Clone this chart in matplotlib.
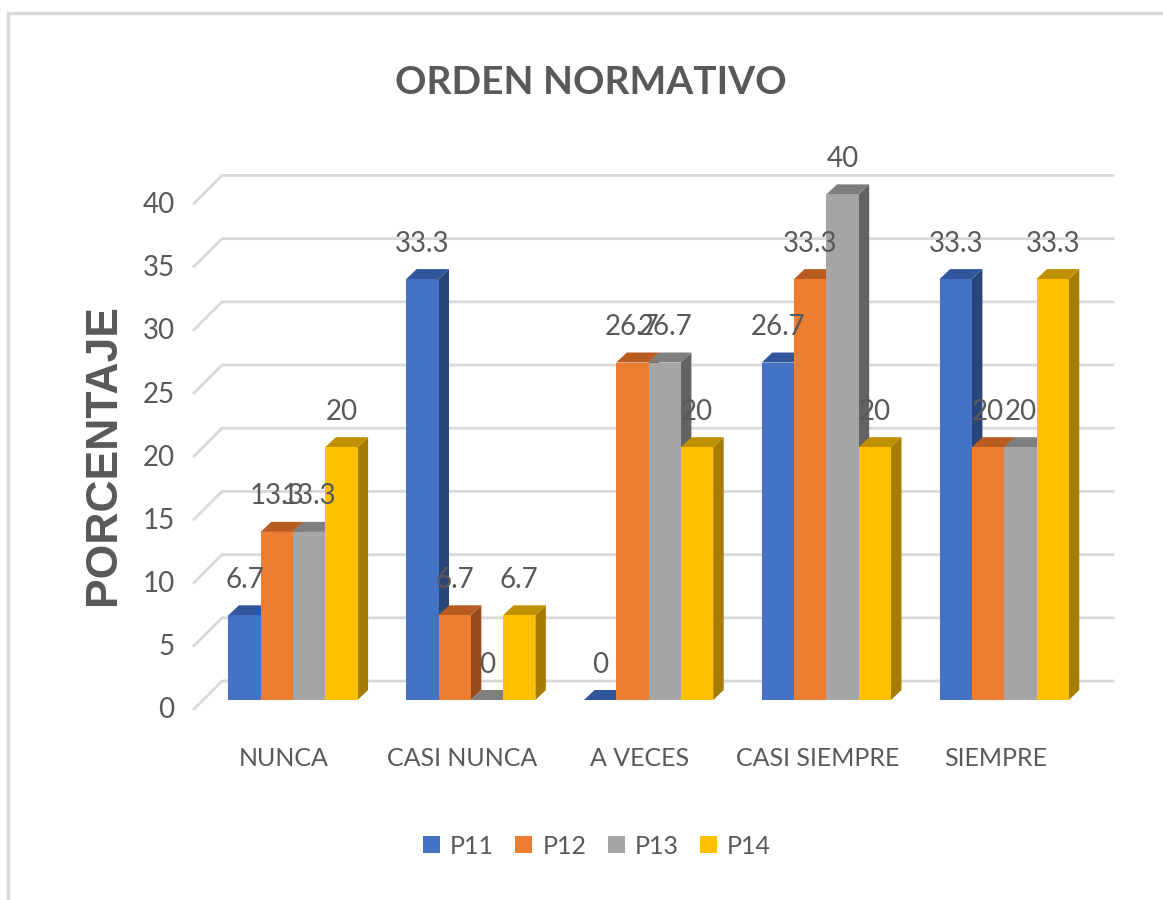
import matplotlib
matplotlib.use('Agg')
import matplotlib.pyplot as plt
from matplotlib.lines import Line2D
from matplotlib.patches import Polygon
from matplotlib.transforms import ScaledTranslation

# Chart data
categories = ['NUNCA', 'CASI NUNCA', 'A VECES', 'CASI SIEMPRE', 'SIEMPRE']
series_names = ['P11', 'P12', 'P13', 'P14']
p11 = [6.7, 33.3, 0, 26.7, 33.3]
p12 = [13.3, 6.7, 26.7, 33.3, 20]
p13 = [13.3, 0, 26.7, 40, 20]
p14 = [20, 6.7, 20, 20, 33.3]
y_ticks = [0, 5, 10, 15, 20, 25, 30, 35, 40]

# Colours: front, top and side of each series
front_colors = ['#4472C4', '#ED7D31', '#A5A5A5', '#FFC000']
top_colors = ['#31569C', '#B85C22', '#7F7F7F', '#BF9000']
side_colors = ['#2A4678', '#964A1B', '#636363', '#A67C00']
text_color = '#595959'
grid_color = '#D9D9D9'

font = 'Lato'

W, H = 1163, 900
group_px = 177.8
unit_px = 12.64
x0_px = 293
base_px = 700
bar_w = 32.3 / group_px
depth_x = 10.5 / group_px
depth_y = 10 / unit_px

fig = plt.figure(figsize=(W / 100, H / 100), dpi=100, facecolor='white')
left_px, right_px = 194, 1113
y_top = 42
ax = fig.add_axes([left_px / W, (H - base_px) / H, (right_px - left_px) / W, y_top * unit_px / H])
ax.set_xlim((left_px - x0_px) / group_px, (right_px - x0_px) / group_px)
ax.set_ylim(0, y_top)
ax.patch.set_visible(False)
for s in ax.spines.values():
    s.set_visible(False)

# Gridlines on the back wall, with the short diagonal on the floor side
back_x = (222 - x0_px) / group_px
for v in y_ticks:
    ax.plot([ax.get_xlim()[0], back_x, ax.get_xlim()[1]], [v - 0.71, v + 1.5, v + 1.5],
            color=grid_color, lw=2.0, zorder=1, clip_on=False, solid_joinstyle='round')

all_series = [p11, p12, p13, p14]
z = 3
handles = []
for j, vals in enumerate(all_series):
    xs = [i + (j - 2) * bar_w for i in range(len(categories))]
    for x, v in zip(xs, vals):
        side = Polygon([(x + bar_w, 0), (x + bar_w + depth_x, depth_y),
                        (x + bar_w + depth_x, v + depth_y), (x + bar_w, v)],
                       facecolor=side_colors[j], lw=0, zorder=z, clip_on=False)
        top = Polygon([(x, v), (x + depth_x, v + depth_y),
                       (x + bar_w + depth_x, v + depth_y), (x + bar_w, v)],
                      facecolor=top_colors[j], lw=0, zorder=z, clip_on=False)
        ax.add_patch(side)
        ax.add_patch(top)
        ax.bar(x, v, width=bar_w, align='edge', color=front_colors[j], lw=0, zorder=z + 0.5)
        ax.annotate(f'{v:g}', (x + bar_w / 2, v), xytext=(0, 25.5), textcoords='offset points',
                    ha='center', va='center', fontsize=20, color=text_color, family=font, zorder=20)
        z += 1
    handles.append(plt.Rectangle((0, 0), 1, 1, facecolor=front_colors[j], lw=0))

# Axis labels
ax.set_xticks(range(len(categories)))
ax.set_xticklabels(categories, fontsize=18, color=text_color, family=font)
ax.set_yticks(y_ticks)
ax.set_yticklabels([str(v) for v in y_ticks], fontsize=20, color=text_color, family=font)
ax.tick_params(axis='both', length=0)
ax.tick_params(axis='x', pad=34)
ax.tick_params(axis='y', pad=14)
x_shift = ScaledTranslation(-9 / 100, 0, fig.dpi_scale_trans)
y_shift = ScaledTranslation(0, -8 / 100, fig.dpi_scale_trans)
for lbl in ax.get_xticklabels():
    lbl.set_transform(lbl.get_transform() + x_shift)
for lbl in ax.get_yticklabels():
    lbl.set_transform(lbl.get_transform() + y_shift)

fig.text(591 / W, 1 - 83 / H, 'ORDEN NORMATIVO', fontsize=28, fontweight='bold', color=text_color,
         family=font, ha='center', va='center')
fig.text(103 / W, 1 - 455 / H, 'PORCENTAJE', fontsize=32, fontweight='bold', color=text_color,
         family='Liberation Sans', rotation=90, ha='center', va='center')

fig.legend(handles, series_names, loc='center', bbox_to_anchor=(597 / W, 1 - 846 / H), ncol=4,
           frameon=False, handlelength=0.68, handleheight=0.68, handletextpad=0.4, columnspacing=0.85,
           prop={'family': font, 'size': 18}, labelcolor=text_color)

# Light frame at top and left of the picture
fig.add_artist(Line2D([8 / W, 8 / W, 1], [0, 1 - 13 / H, 1 - 13 / H], color=grid_color, lw=2.4,
                      solid_joinstyle='miter'))

fig.savefig('out.png', dpi=100)
